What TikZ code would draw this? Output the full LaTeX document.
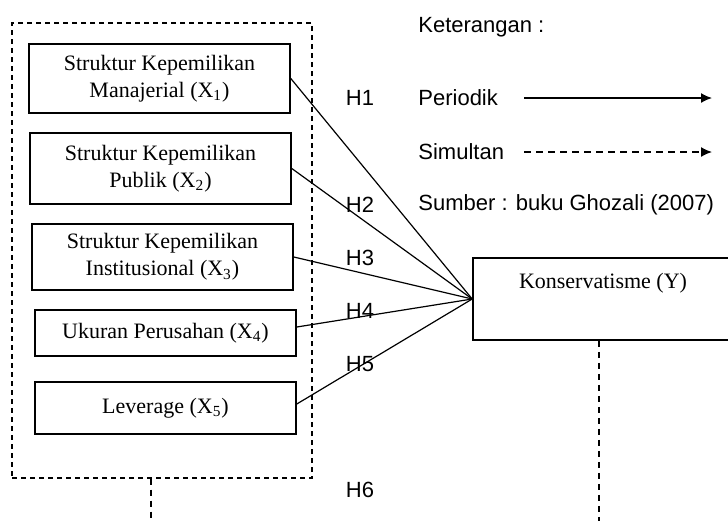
\documentclass[tikz,border=0pt]{standalone}
\usepackage{fontspec}
\setmainfont{Liberation Serif}
\setsansfont{Liberation Sans}
\usetikzlibrary{arrows.meta, positioning, calc}

\begin{document}
\begin{tikzpicture}[
        x=0.5pt, y=-0.5pt,
        font=\fontsize{11}{13.5}\selectfont,
        varbox/.style={draw, line width=0.8pt, align=center, minimum width=130.5pt, inner sep=2pt},
        groupbox/.style={draw, line width=0.6pt, dash pattern=on 2.5pt off 2pt, minimum width=150pt, minimum height=227.5pt},
        lbl/.style={font=\sffamily\fontsize{11}{13.5}\selectfont, inner sep=0pt},
        link/.style={line width=0.6pt},
        simline/.style={line width=0.6pt, dash pattern=on 3pt off 2.5pt},
        arrow/.style={-{Latex[length=5.5pt, width=5pt]}, line width=0.7pt}
        ]
        \useasboundingbox (0,0) rectangle (728,520);

        % variabel independen
        \node[groupbox] (grp) at (162,250.5) {};
        \node[varbox, minimum height=34.5pt] (x1) at (159.5,78.5) {Struktur Kepemilikan\\Manajerial (X\textsubscript{1})};
        \node[varbox, minimum height=35.5pt] (x2) at (160.5,168.5) {Struktur Kepemilikan\\Publik (X\textsubscript{2})};
        \node[varbox, minimum height=33pt] (x3) at (162.5,257) {Struktur Kepemilikan\\Institusional (X\textsubscript{3})};
        \node[varbox, minimum height=23pt] (x4) at (165.5,333) {Ukuran Perusahan (X\textsubscript{4})};
        \node[varbox, minimum height=26pt] (x5) at (165.5,408) {Leverage (X\textsubscript{5})};

        % variabel dependen
        \node[draw, line width=0.8pt, minimum width=133.5pt, minimum height=41pt] (y) at (606.5,299) {};
        \node[inner sep=0pt] (ylabel) at (603,283) {Konservatisme (Y)};

        % hipotesis
        \node[lbl] (h1) at (360,98) {H1};
        \node[lbl] (h2) at (360,205) {H2};
        \node[lbl] (h3) at (360,258) {H3};
        \node[lbl] (h4) at (360,311) {H4};
        \node[lbl] (h5) at (360,364) {H5};
        \node[lbl] (h6) at (360,490) {H6};

        \draw[link] (x1.east) -- (y.west);
        \draw[link] (x2.east) -- (y.west);
        \draw[link] (x3.east) -- (y.west);
        \draw[link] ($(x4.east)+(0,-6)$) -- (y.west);
        \draw[link] ($(x5.east)+(0,-4)$) -- (y.west);

        \coordinate (grpend) at (151,525);
        \coordinate (yend) at (599,525);
        \draw[simline] (grp.south -| grpend) -- (grpend);
        \draw[simline] (y.south -| yend) -- (yend);

        % keterangan
        \node[lbl, anchor=west] (ket) at (418,27) {Keterangan :};
        \node[lbl, anchor=west] (per) at (418,98) {Periodik};
        \node[lbl, anchor=west] (sim) at (418,152) {Simultan};
        \node[lbl, anchor=west] (src) at (418,205) {Sumber : buku Ghozali (2007)};

        \coordinate (pera) at (524,98);
        \coordinate (perb) at (712,98);
        \coordinate (sima) at (524,152);
        \coordinate (simb) at (712,152);
        \draw[arrow] (pera) -- (perb);
        \draw[arrow, dash pattern=on 3.5pt off 2.5pt] (sima) -- (simb);
    \end{tikzpicture}
\end{document}
